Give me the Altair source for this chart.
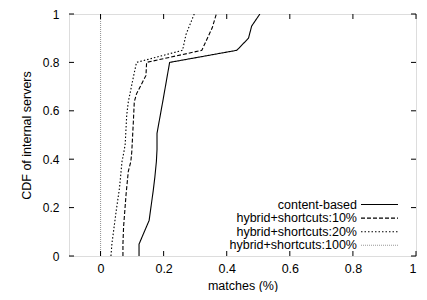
import altair as alt
import pandas as pd

# ---- data ----
series_names = ["content-based", "hybrid+shortcuts:10%", "hybrid+shortcuts:20%", "hybrid+shortcuts:100%"]

cb_x = [0.122, 0.122, 0.154, 0.167, 0.172, 0.177, 0.179, 0.179, 0.198, 0.219, 0.432, 0.469, 0.479, 0.505]
cb_y = [0.0, 0.049, 0.147, 0.27, 0.324, 0.39, 0.44, 0.507, 0.644, 0.8, 0.85, 0.9, 0.95, 1.0]

h10_x = [0.071, 0.071, 0.073, 0.081, 0.088, 0.096, 0.099, 0.104, 0.107, 0.114, 0.144, 0.146, 0.321, 0.354, 0.367]
h10_y = [0.0, 0.05, 0.12, 0.256, 0.35, 0.39, 0.43, 0.555, 0.637, 0.67, 0.746, 0.8, 0.85, 0.943, 1.0]

h20_x = [0.033, 0.036, 0.05, 0.06, 0.068, 0.074, 0.078, 0.083, 0.088, 0.104, 0.114, 0.26, 0.271, 0.297]
h20_y = [0.0, 0.05, 0.19, 0.28, 0.39, 0.43, 0.46, 0.582, 0.637, 0.739, 0.8, 0.85, 0.916, 1.0]

h100_x = [0.0, 0.0]
h100_y = [0.0, 1.0]

x_ticks = [0, 0.2, 0.4, 0.6, 0.8, 1]
y_ticks = [0, 0.2, 0.4, 0.6, 0.8, 1]

# ---- build table ----
rows = []
for name, xs, ys in zip(series_names, [cb_x, h10_x, h20_x, h100_x], [cb_y, h10_y, h20_y, h100_y]):
    for i, (a, b) in enumerate(zip(xs, ys)):
        rows.append({"series": name, "x": a, "y": b, "order": i})
df = pd.DataFrame(rows)

W, H = 347, 242
FONT = "Liberation Sans"
dashes = [[1, 0], [4, 2], [1.5, 2], [1, 1]]
colors = ["#000000", "#000000", "#000000", "#999999"]

xscale = alt.Scale(domain=[-0.1, 1], nice=False, zero=False)
yscale = alt.Scale(domain=[0, 1], nice=False)

lines = alt.Chart(df).mark_line(strokeWidth=1.1, clip=True).encode(
    x=alt.X("x:Q", scale=xscale,
            axis=alt.Axis(values=x_ticks, format="~g", ticks=False, domain=False, grid=False,
                          labelPadding=6, labelFontSize=12.5, labelFont=FONT, labelColor="black",
                          title="matches (%)", titleFontSize=12.5, titleFont=FONT, titleColor="black",
                          titleFontWeight="normal", titleY=33, titleBaseline="alphabetic")),
    y=alt.Y("y:Q", scale=yscale,
            axis=alt.Axis(values=y_ticks, format="~g", ticks=False, domain=False, grid=False,
                          labelPadding=10, labelFontSize=12, labelFont=FONT, labelColor="black",
                          title="CDF of internal servers", titleFontSize=12.5, titleFont=FONT,
                          titleColor="black", titleFontWeight="normal", titlePadding=9)),
    color=alt.Color("series:N", scale=alt.Scale(domain=series_names, range=colors), legend=None),
    strokeDash=alt.StrokeDash("series:N", scale=alt.Scale(domain=series_names, range=dashes), legend=None),
    order="order:Q",
    detail="series:N",
)

xt = pd.DataFrame({"t": x_ticks})
yt = pd.DataFrame({"t": y_ticks})
TL = 5
tick_bottom = alt.Chart(xt).mark_rule(color="black", strokeWidth=1).encode(
    x=alt.X("t:Q", scale=xscale), y=alt.value(H), y2=alt.value(H - TL))
tick_top = alt.Chart(xt).mark_rule(color="black", strokeWidth=1).encode(
    x=alt.X("t:Q", scale=xscale), y=alt.value(0), y2=alt.value(TL))
tick_left = alt.Chart(yt).mark_rule(color="black", strokeWidth=1).encode(
    y=alt.Y("t:Q", scale=yscale), x=alt.value(0), x2=alt.value(TL))
tick_right = alt.Chart(yt).mark_rule(color="black", strokeWidth=1).encode(
    y=alt.Y("t:Q", scale=yscale), x=alt.value(W), x2=alt.value(W - TL))

# ---- manual legend (label on the left, sample on the right) ----
legend_layers = []
for i, name in enumerate(series_names):
    ly = 190.5 + i * 13.6
    ld = pd.DataFrame({"series": [name]})
    legend_layers.append(
        alt.Chart(ld).mark_text(align="right", baseline="middle", fontSize=12.5, font=FONT, color="black").encode(
            text="series:N", x=alt.value(288), y=alt.value(ly)))
    legend_layers.append(
        alt.Chart(ld).mark_rule(strokeWidth=1.1, color=colors[i], strokeDash=dashes[i]).encode(
            x=alt.value(292), x2=alt.value(329), y=alt.value(ly)))

chart = alt.layer(lines, tick_bottom, tick_top, tick_left, tick_right, *legend_layers).properties(
    width=W, height=H,
    autosize=alt.AutoSizeParams(type="none"),
    padding={"left": 61, "top": 6, "right": 3, "bottom": 36},
).configure_view(stroke="black", strokeWidth=1.2).configure(background="white")

chart.save("out.html", embed_options={"renderer": "svg", "actions": False})
